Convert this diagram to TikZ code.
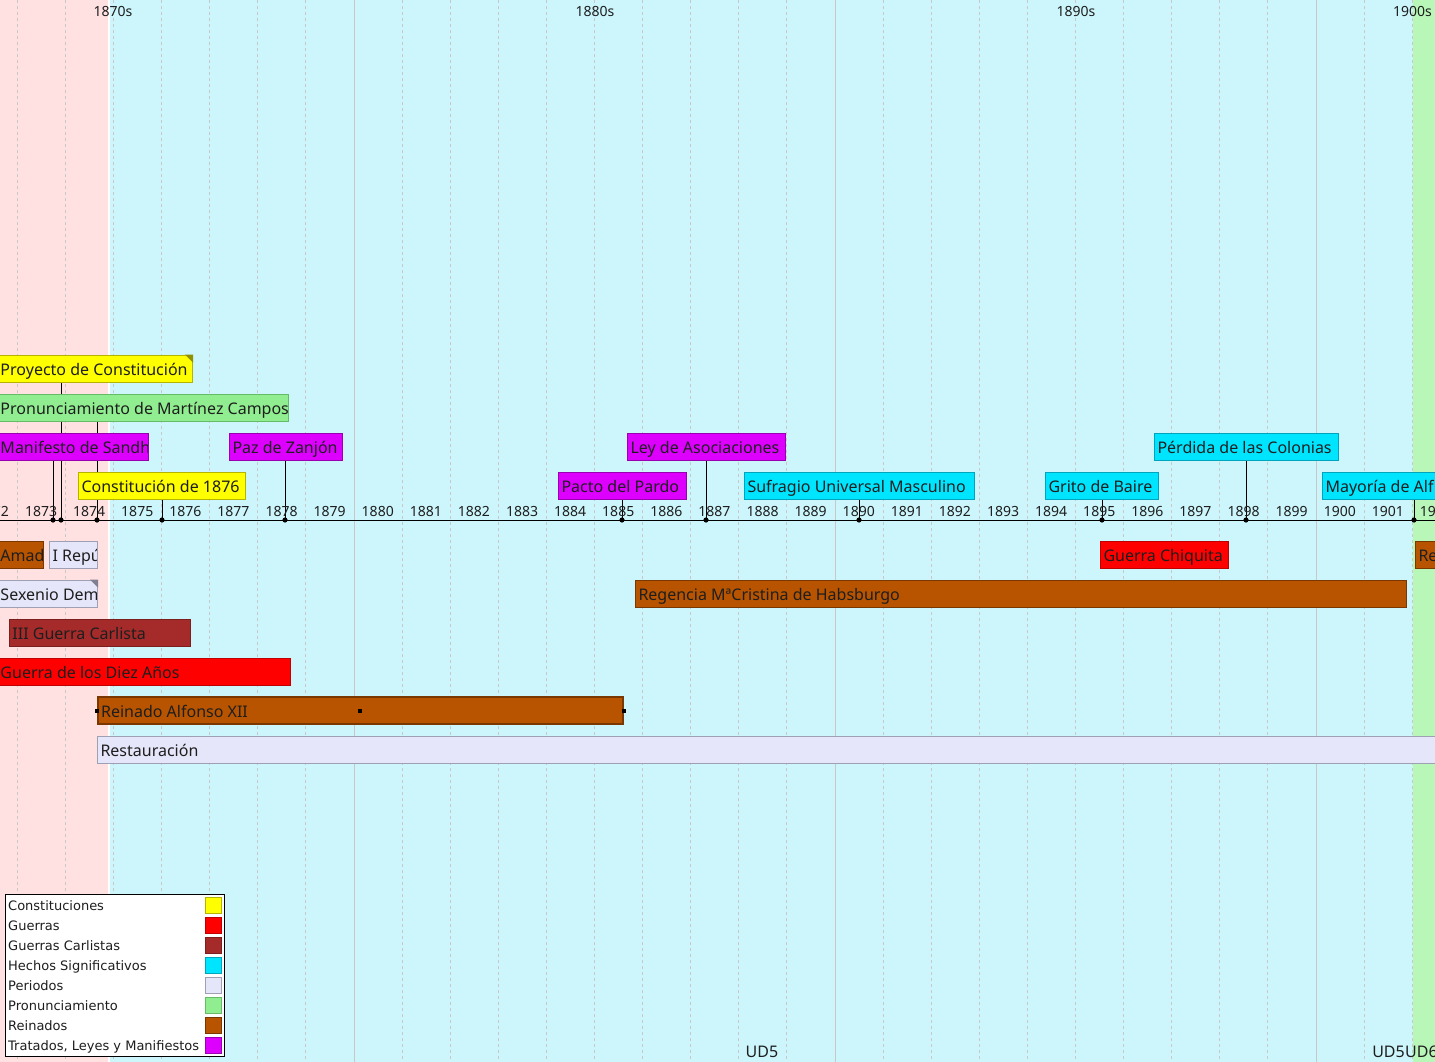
\documentclass[tikz,border=0pt]{standalone}
\usepackage{fontspec}
\setmainfont{Noto Sans}
\newfontfamily\legendfont{DejaVu Sans}
\usetikzlibrary{positioning,calc}
\definecolor{BgPink}{HTML}{FFE1E1}
\definecolor{BgCyan}{HTML}{CCF6FC}
\definecolor{BgGreen}{HTML}{B9F7B9}
\definecolor{GridGray}{HTML}{C8C8C8}
\definecolor{Ink}{HTML}{1E1E1E}
\definecolor{ConsFill}{HTML}{FFFF00}\definecolor{ConsLine}{HTML}{B4B400}
\definecolor{GuerFill}{HTML}{FF0000}\definecolor{GuerLine}{HTML}{C00000}
\definecolor{CarlFill}{HTML}{A52A2A}\definecolor{CarlLine}{HTML}{7A1E1E}
\definecolor{HechFill}{HTML}{00E5FF}\definecolor{HechLine}{HTML}{00A5BD}
\definecolor{PeriFill}{HTML}{E6E6FA}\definecolor{PeriLine}{HTML}{A0A0B4}
\definecolor{PronFill}{HTML}{90EE90}\definecolor{PronLine}{HTML}{66BB66}
\definecolor{ReinFill}{HTML}{B85400}\definecolor{ReinLine}{HTML}{7A3800}
\definecolor{TratFill}{HTML}{DD00FF}\definecolor{TratLine}{HTML}{9900B0}
\pgfdeclarelayer{back}
\pgfdeclarelayer{mid}
\pgfsetlayers{back,mid,main}

\begin{document}
\begin{tikzpicture}[x=1pt,y=-1pt,
  bar/.style={draw,line width=1pt,minimum height=27,inner sep=0,anchor=west},
  tag/.style={path picture={\node[anchor=base west,inner sep=0,minimum size=0pt,draw=none,fill=none,
      font=\fontsize{16}{19}\selectfont,text=Ink]
      at ([xshift=2.5pt,yshift=-7pt]path picture bounding box.west) {#1};}},
  cons/.style={fill=ConsFill,draw=ConsLine},
  guer/.style={fill=GuerFill,draw=GuerLine},
  carl/.style={fill=CarlFill,draw=CarlLine},
  hech/.style={fill=HechFill,draw=HechLine},
  peri/.style={fill=PeriFill,draw=PeriLine},
  pron/.style={fill=PronFill,draw=PronLine},
  rein/.style={fill=ReinFill,draw=ReinLine},
  trat/.style={fill=TratFill,draw=TratLine},
  yearlbl/.style={anchor=base,inner sep=0,font=\fontsize{14}{16}\selectfont,text=Ink},
  unitlbl/.style={anchor=base,inner sep=0,font=\fontsize{16}{19}\selectfont,text=Ink},
  legtext/.style={anchor=base west,inner sep=0,font=\legendfont\fontsize{13}{15}\selectfont,text=Ink},
  swatch/.style={minimum size=16,inner sep=0,line width=1pt},
  stem/.style={line width=1pt,draw=black}]
\useasboundingbox (0,0) rectangle (1435,1062);
\clip (0,0) rectangle (1435,1062);

\begin{pgfonlayer}{back}
\fill[BgPink] (0,0) rectangle (108,1062);
\fill[white] (108,0) rectangle (110,1062);
\fill[BgCyan] (110,0) rectangle (1413,1062);
\fill[BgGreen] (1413,0) rectangle (1435,1062);
\foreach \k in {0,...,29}
  \draw[GridGray,dash pattern=on 3pt off 3pt] (17+48.1*\k,0) -- (17+48.1*\k,1062);
\foreach \x in {353.7,834.7,1315.7}
  \draw[GridGray] (\x,0) -- (\x,1062);
\end{pgfonlayer}

% decades and years
\node[yearlbl] (d1870) at (113,17) {1870s};
\node[yearlbl] (d1880) at (595,17) {1880s};
\node[yearlbl] (d1890) at (1076,17) {1890s};
\node[yearlbl,anchor=base east] (d1900) at (1432,17) {1900s};
\foreach \k in {0,...,30}{
  \pgfmathtruncatemacro\yr{1872+\k}
  \node[yearlbl] (y\yr) at (-7.05+48.1*\k,516) {\yr};
}

% events above the axis
\node[bar,cons,minimum width=195,tag={Proyecto de Constitución}] (proyecto) at (-3,368.5) {};
\fill[ConsLine!80!black] (proyecto.north east) -- ++(-8,0) -- ++(8,8) -- cycle;
\node[bar,pron,minimum width=291,tag={Pronunciamiento de Martínez Campos}] (pronun) at (-3,407.5) {};
\node[bar,trat,minimum width=151,tag={Manifesto de Sandh}] (sandhurst) at (-3,446.5) {};
\node[bar,trat,minimum width=113,tag={Paz de Zanjón}] (zanjon) at (229,446.5) {};
\node[bar,cons,minimum width=167,tag={Constitución de 1876}] (const76) at (78,485.5) {};
\node[bar,trat,minimum width=128,tag={Pacto del Pardo}] (pardo) at (558,485.5) {};
\node[bar,trat,minimum width=158,tag={Ley de Asociaciones}] (asoc) at (627,446.5) {};
\node[bar,hech,minimum width=230,tag={Sufragio Universal Masculino}] (sufragio) at (744,485.5) {};
\node[bar,hech,minimum width=113,tag={Grito de Baire}] (baire) at (1045,485.5) {};
\node[bar,hech,minimum width=184,tag={Pérdida de las Colonias}] (colonias) at (1154,446.5) {};
\node[bar,hech,minimum width=130,tag={Mayoría de Alf}] (mayoria) at (1322,485.5) {};

% periods below the axis
\node[bar,rein,minimum width=46,tag={Amad}] (amadeo) at (-3,554.5) {};
\node[bar,peri,minimum width=48,tag={I Repú}] (republica) at (49,554.5) {};
\node[bar,peri,minimum width=100,tag={Sexenio Dem}] (sexenio) at (-3,593.5) {};
\fill[PeriLine!80!black] (sexenio.north east) -- ++(-8,0) -- ++(8,8) -- cycle;
\node[bar,carl,minimum width=181,tag={III Guerra Carlista}] (carlista) at (9,632.5) {};
\node[bar,guer,minimum width=293,tag={Guerra de los Diez Años}] (diezanos) at (-3,671.5) {};
\node[bar,rein,line width=1.6pt,minimum width=525,tag={Reinado Alfonso XII}] (alfonso) at (97,710.5) {};
\foreach \p in {west,center,east}
  \fill ([xshift=-2pt,yshift=-2pt]alfonso.\p) rectangle ++(4,-4);
\node[bar,peri,minimum width=1360,tag={Restauración}] (restauracion) at (97,749.5) {};
\node[bar,guer,minimum width=128,tag={Guerra Chiquita}] (chiquita) at (1100,554.5) {};
\node[bar,rein,minimum width=771,tag={Regencia MªCristina de Habsburgo}] (regencia) at (635,593.5) {};
\node[bar,rein,minimum width=40,tag={Re}] (alfonso13) at (1415,554.5) {};

% axis, stems and dots
\begin{pgfonlayer}{mid}
\coordinate (axL) at (0,520);
\coordinate (axR) at (1435,520);
\draw[line width=1pt] (axL) -- (axR);
\foreach \b/\x in {sandhurst/53,proyecto/61,pronun/97,const76/162,zanjon/285,pardo/622,
    asoc/706,sufragio/859,baire/1102,colonias/1246,mayoria/1414}{
  \coordinate (t-\b) at (\x,520);
  \draw[stem] (t-\b) -- (t-\b |- \b.south);
  \fill (t-\b) circle (2.6);
}
\end{pgfonlayer}

% unit labels
\node[unitlbl] (ud5a) at (762,1057) {UD5};
\node[unitlbl,anchor=base east] (ud5b) at (1405,1057) {UD5};
\node[unitlbl,anchor=base west] (ud6) at (1405,1057) {UD6};

% legend
\node[draw=black,line width=1pt,fill=white,minimum width=219,minimum height=162,inner sep=0,anchor=north west] (legend) at (5,894) {};
\foreach \c/\t [count=\i] in {cons/Constituciones,guer/Guerras,carl/Guerras Carlistas,
    hech/Hechos Significativos,peri/Periodos,pron/Pronunciamiento,rein/Reinados,
    trat/{Tratados, Leyes y Manifiestos}}{
  \node[legtext] (lt\i) at (8,890+20*\i) {\t};
  \node[swatch,\c] (ls\i) at (213,885+20*\i) {};
}
\end{tikzpicture}
\end{document}
